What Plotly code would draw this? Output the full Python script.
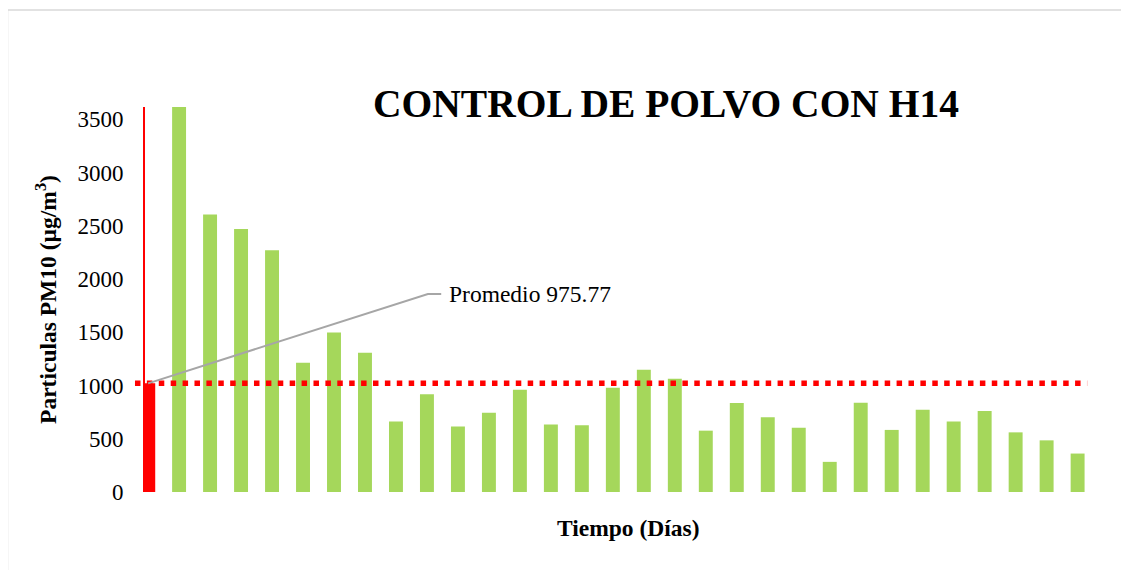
import plotly.graph_objects as go

# ---- data ----
promedio_label = "Promedio 975.77"
promedio_value = 1020
days = list(range(1, 31))
pm10 = [3615, 2605, 2470, 2270, 1214, 1498, 1307, 661, 917, 614,
        745, 961, 633, 626, 978, 1148, 1064, 576, 836, 701,
        604, 283, 839, 583, 773, 661, 761, 560, 485, 361]
y_ticks = [0, 500, 1000, 1500, 2000, 2500, 3000, 3500]
y_max = 3615

title_text = "CONTROL DE POLVO CON H14"
y_title = "Particulas PM10 (µg/m<sup>3</sup>)"
x_title = "Tiempo (Días)"

SERIF = "Liberation Serif, Times New Roman, serif"
GREEN = "#a5d75b"
RED = "#ff0000"

fig = go.Figure()
fig.add_trace(go.Bar(x=[0], y=[promedio_value], width=0.33, offset=-0.1,
                     marker=dict(color=RED, line=dict(width=0)),
                     showlegend=False, hoverinfo="y"))
fig.add_trace(go.Bar(x=days, y=pm10, width=0.45,
                     marker=dict(color=GREEN, line=dict(width=0)),
                     showlegend=False))

# dotted average line (paper refs so it may extend left of the axis)
fig.add_shape(type="line", xref="paper", yref="paper",
              x0=-0.0106, x1=0.997,
              y0=promedio_value / y_max, y1=promedio_value / y_max,
              line=dict(color=RED, width=5.5, dash="5.5px,6.4px"))

# leader line to label
lx, ly = 9.03, 1859
fig.add_shape(type="path", xref="x", yref="y",
              path=f"M 0,{promedio_value} L {lx},{ly} L {lx+0.43},{ly}",
              line=dict(color="#a6a6a6", width=2))
fig.add_annotation(x=lx + 0.62, y=ly, xref="x", yref="y", text=promedio_label,
                   showarrow=False, xanchor="left", yanchor="middle",
                   font=dict(family=SERIF, size=23.5, color="#000000"))

# x axis title
fig.add_annotation(x=0.5116, y=-0.0935, xref="paper", yref="paper",
                   text=f"<b>{x_title}</b>", showarrow=False,
                   xanchor="center", yanchor="middle",
                   font=dict(family=SERIF, size=23.5, color="#000000"))

# outer chart border (light gray frame)
fig.add_shape(type="rect", xref="paper", yref="paper",
              x0=-0.1455, x1=1.06, y0=-0.23, y1=1.252,
              line=dict(color="#d9d9d9", width=1.5), layer="below")

fig.update_layout(
    width=1121, height=562,
    margin=dict(l=137, r=39, t=99, b=78),
    paper_bgcolor="white", plot_bgcolor="white",
    title=dict(text=f"<b>{title_text}</b>", x=0.587, xanchor="center",
               y=0.83, yanchor="middle",
               font=dict(family=SERIF, size=39.5, color="#000000")),
    xaxis=dict(range=[-0.1, 30.4], showticklabels=False, showgrid=False,
               zeroline=False, showline=False, ticks=""),
    yaxis=dict(range=[0, y_max], tickvals=y_ticks, showgrid=False, zeroline=False,
               showline=True, linecolor=RED, linewidth=2, ticks="",
               tickfont=dict(family=SERIF, size=23, color="#000000"),
               ticklabelstandoff=15,
               title=dict(text=f"<b>{y_title}</b>", standoff=14,
                          font=dict(family=SERIF, size=23.5, color="#000000"))),
)

fig.write_html("out.html")
